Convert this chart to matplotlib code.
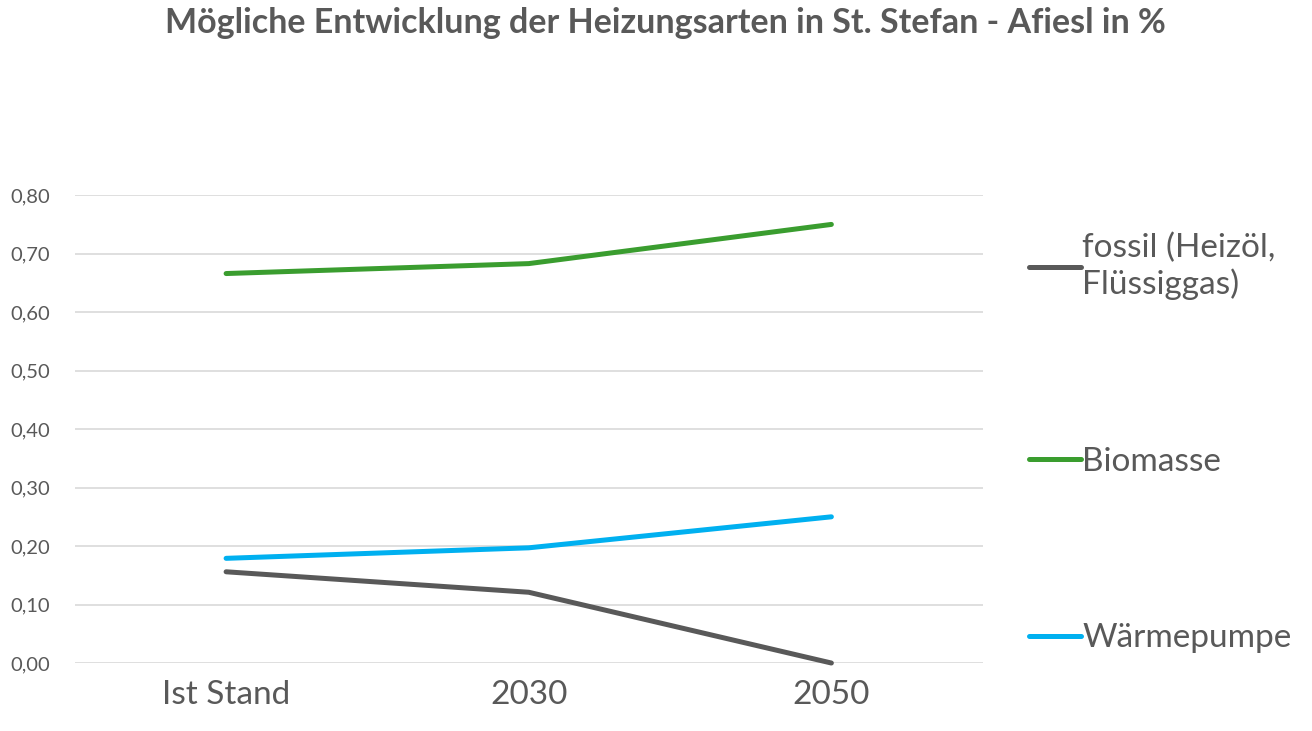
"""Line chart: possible development of heating types in St. Stefan - Afiesl."""

import matplotlib.pyplot as plt

categories = ["Ist Stand", "2030", "2050"]
fossil = [0.156, 0.121, 0.0]
biomasse = [0.666, 0.683, 0.750]
waermepumpe = [0.179, 0.197, 0.250]
series_labels = ["fossil (Heizöl,\nFlüssiggas)", "Biomasse", "Wärmepumpe"]
y_ticks = [0.0, 0.1, 0.2, 0.3, 0.4, 0.5, 0.6, 0.7, 0.8]

TEXT = "#595959"
plt.rcParams["font.family"] = ["Lato", "DejaVu Sans"]

fig = plt.figure(figsize=(13.12, 7.31), dpi=100)
ax = fig.add_axes([0.057, 0.093, 0.692, 0.640])

x = range(len(categories))
ax.plot(x, fossil, color="#595959", lw=3.6, label=series_labels[0],
        clip_on=False, solid_capstyle="round", zorder=3)
ax.plot(x, biomasse, color="#3A9D2F", lw=3.6, label=series_labels[1],
        clip_on=False, solid_capstyle="round", zorder=3)
ax.plot(x, waermepumpe, color="#00B0F0", lw=3.6, label=series_labels[2],
        clip_on=False, solid_capstyle="round", zorder=3)

ax.set_xlim(-0.5, 2.5)
ax.set_ylim(0, 0.8)
ax.set_xticks(list(x))
ax.set_xticklabels(categories, fontsize=24, color=TEXT)
ax.set_yticks(y_ticks)
ax.set_yticklabels([f"{v:.2f}".replace(".", ",") for v in y_ticks],
                   fontsize=14.5, color=TEXT)
ax.tick_params(axis="both", length=0)
ax.tick_params(axis="x", pad=12)
ax.tick_params(axis="y", pad=18)
ax.grid(axis="y", color="#D9D9D9", lw=1.2)
ax.set_axisbelow(True)
for s in ax.spines.values():
    s.set_visible(False)

leg = ax.legend(loc="center left", bbox_to_anchor=(1.018, 0.47), frameon=False,
                fontsize=24, handlelength=1.55, handletextpad=0.05,
                labelspacing=4.4, labelcolor=TEXT)

fig.text(0.507, 0.968, "Mögliche Entwicklung der Heizungsarten in St. Stefan - Afiesl in %",
         ha="center", va="center", fontsize=24.5, fontweight="bold", color=TEXT)

fig.savefig("out.png", dpi=100)
